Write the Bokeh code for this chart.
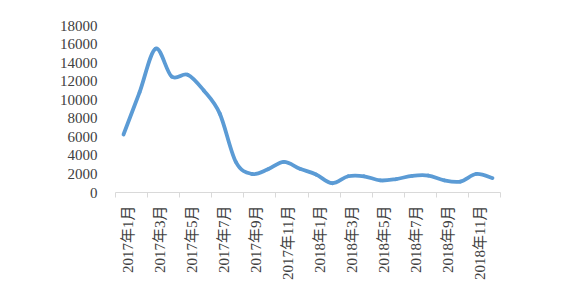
from bokeh.plotting import figure
from bokeh.models import FixedTicker, Range1d
from bokeh.embed import file_html
from bokeh.resources import INLINE

months = [f"2017年{m}月" for m in range(1, 13)] + [f"2018年{m}月" for m in range(1, 13)]
values = [6250, 10800, 15500, 12500, 12700, 11000, 8500, 3300, 2000, 2500, 3300, 2550,
          1950, 1000, 1750, 1750, 1300, 1450, 1800, 1830, 1300, 1180, 2000, 1550]
y_ticks = [0, 2000, 4000, 6000, 8000, 10000, 12000, 14000, 16000, 18000]

n = len(values)
xs = list(range(n))

# Smoothed line: cubic Bezier segments with Catmull-Rom control points
x0, y0, x1, y1, cx0, cy0, cx1, cy1 = [], [], [], [], [], [], [], []
for i in range(n - 1):
    pm = max(i - 1, 0)
    pn = min(i + 2, n - 1)
    x0.append(xs[i]); y0.append(values[i])
    x1.append(xs[i + 1]); y1.append(values[i + 1])
    cx0.append(xs[i] + (xs[i + 1] - xs[pm]) / 6)
    cy0.append(values[i] + (values[i + 1] - values[pm]) / 6)
    cx1.append(xs[i + 1] - (xs[pn] - xs[i]) / 6)
    cy1.append(values[i + 1] - (values[pn] - values[i]) / 6)

p = figure(width=587, height=302, output_backend="svg", toolbar_location=None,
           x_range=Range1d(-0.5, n - 0.5), y_range=Range1d(0, 18000),
           min_border_left=115, min_border_right=87, min_border_top=25, min_border_bottom=110)
p.outline_line_color = None
p.xgrid.visible = False
p.ygrid.visible = False
p.background_fill_color = "white"
p.border_fill_color = "white"

p.bezier(x0=x0, y0=y0, x1=x1, y1=y1, cx0=cx0, cy0=cy0, cx1=cx1, cy1=cy1,
         line_color="#5B9BD5", line_width=3.8, line_cap="round", line_join="round")

font = "Liberation Serif, Noto Sans CJK SC"

label_pos = [i + 0.25 for i in range(0, n, 2)]
p.xaxis.ticker = FixedTicker(ticks=label_pos, minor_ticks=[i - 0.5 for i in range(0, n + 1, 2)])
p.xaxis.major_label_overrides = {i + 0.25: months[i] for i in range(0, n, 2)}
p.xaxis.major_label_orientation = 1.5707963
p.xaxis.major_tick_line_color = None
p.xaxis.minor_tick_line_color = "#D9D9D9"
p.xaxis.minor_tick_out = 5
p.xaxis.minor_tick_in = 0
p.xaxis.axis_line_color = "#D9D9D9"
p.xaxis.axis_line_width = 1
p.xaxis.major_label_text_font = font
p.xaxis.major_label_text_font_size = "15px"
p.xaxis.major_label_text_color = "#404040"
p.xaxis.major_label_standoff = 7

p.yaxis.ticker = FixedTicker(ticks=y_ticks)
p.yaxis.axis_line_color = None
p.yaxis.major_tick_line_color = None
p.yaxis.minor_tick_line_color = None
p.yaxis.major_label_text_font = font
p.yaxis.major_label_text_font_size = "15px"
p.yaxis.major_label_text_color = "#404040"
p.yaxis.major_label_standoff = 12

open("out.html", "w").write(file_html(p, INLINE))
